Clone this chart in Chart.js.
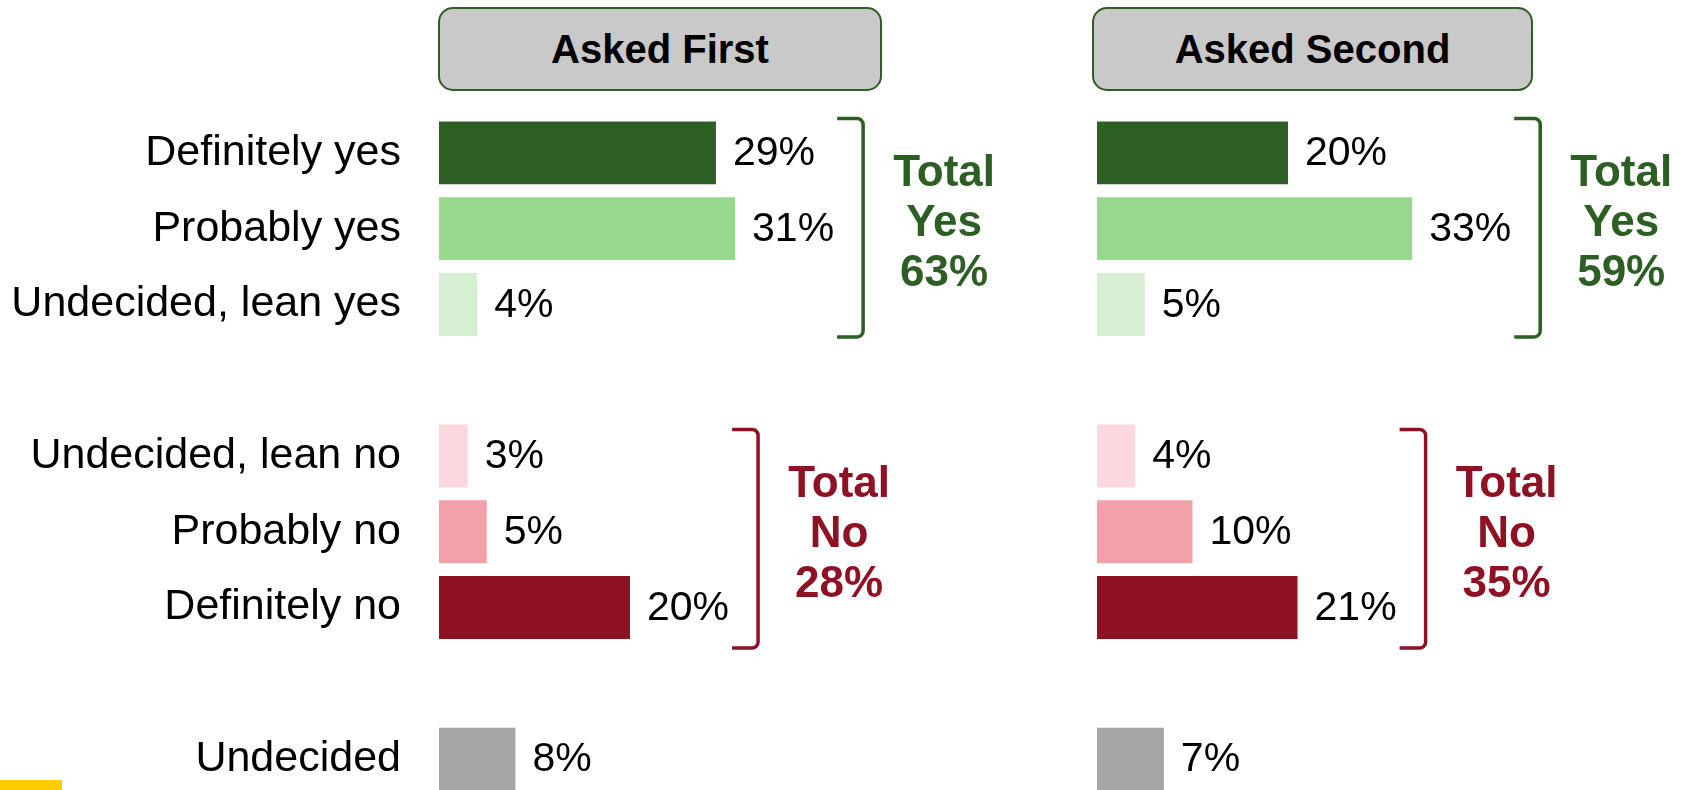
<!DOCTYPE html>
<html>
<head>
<meta charset="utf-8">
<title>Asked First vs Asked Second</title>
<script src="https://cdn.jsdelivr.net/npm/chart.js@4.4.1/dist/chart.umd.min.js"></script>
<style>
  body { margin: 0; width: 1686px; height: 790px; overflow: hidden; background: #fff; position: relative;
         font-family: "Liberation Sans", Arial, sans-serif; }
  canvas { position: absolute; top: 0; }
  #chartFirst { left: 0; }
  #chartSecond { left: 1060px; }
  .hdr { position: absolute; top: 7px; height: 84px; box-sizing: border-box; background: #c9c9c9;
         border: 2px solid #2d5e24; border-radius: 15px; display: flex; align-items: center;
         justify-content: center; font-weight: bold; font-size: 40px; color: #000; }
  #hdrFirst { left: 438px; width: 444px; }
  #hdrSecond { left: 1092px; width: 441px; }
  #stripe { position: absolute; left: 0; top: 780px; width: 62px; height: 10px; background: #ffcc00; }
</style>
</head>
<body>
<div class="hdr" id="hdrFirst">Asked First</div>
<div class="hdr" id="hdrSecond">Asked Second</div>
<canvas id="chartFirst" width="1060" height="800"></canvas>
<canvas id="chartSecond" width="626" height="800"></canvas>
<div id="stripe"></div>
<script>
// === Data ===
const categories = ['Definitely yes', 'Probably yes', 'Undecided, lean yes',
                    'Undecided, lean no', 'Probably no', 'Definitely no', 'Undecided'];
const askedFirst = [29, 31, 4, 3, 5, 20, 8];
const askedSecond = [20, 33, 5, 4, 10, 21, 7];
const barColors = ['#2d5e24', '#98d78e', '#d6efd2', '#fbd8dd', '#f4a0ab', '#8f1124', '#a6a6a6'];

const groupNames = ['Yes', 'No'];
const groupRows = [[0, 1, 2], [3, 4, 5]];
const totalsFirst = [63, 28];
const totalsSecond = [59, 35];
const groupColors = ['#2d5e24', '#8f1124'];
const bracketShift = [0, 8];

// empty rows after these categories
const gapAfter = [2, 5];

const FONT = '"Liberation Sans", Arial, sans-serif';
Chart.defaults.font.family = FONT;

function withGaps(arr, blank) {
  const out = [];
  arr.forEach((v, i) => { out.push(v); if (gapAfter.includes(i)) out.push(blank); });
  return out;
}
function rowOf(i) { return i + gapAfter.filter(g => g < i).length; }

// value labels, brackets and totals
const annotations = {
  id: 'annotations',
  afterDatasetsDraw(chart, args, opts) {
    const ctx = chart.ctx;
    const meta = chart.getDatasetMeta(0);
    const values = chart.data.datasets[0].data;
    const ends = [];
    ctx.save();
    ctx.font = '41px ' + FONT;
    ctx.textBaseline = 'middle';
    ctx.textAlign = 'left';
    ctx.fillStyle = '#000';
    meta.data.forEach((bar, i) => {
      if (values[i] == null) return;
      const txt = values[i] + '%';
      const x = bar.x + 17;
      ctx.fillText(txt, x, bar.y + 1);
      ends[i] = x + ctx.measureText(txt).width;
    });

    groupRows.forEach((rows, g) => {
      const idx = rows.map(rowOf);
      const first = meta.data[idx[0]];
      const last = meta.data[idx[idx.length - 1]];
      const top = first.y - first.height / 2 - 3 + bracketShift[g];
      const bottom = last.y + last.height / 2 + 1 + bracketShift[g];
      const arm = Math.max(...idx.map(i => ends[i])) + 3;
      const vx = arm + 26;

      ctx.strokeStyle = groupColors[g];
      ctx.lineWidth = 3.5;
      ctx.beginPath();
      ctx.moveTo(arm, top);
      ctx.arcTo(vx, top, vx, bottom, 6);
      ctx.arcTo(vx, bottom, arm, bottom, 6);
      ctx.lineTo(arm, bottom);
      ctx.stroke();

      const cx = vx + 81;
      const cy = (top + bottom) / 2 - 4;
      ctx.fillStyle = groupColors[g];
      ctx.font = 'bold 44px ' + FONT;
      ctx.textAlign = 'center';
      ['Total', groupNames[g], opts.totals[g] + '%'].forEach((line, k) => {
        ctx.fillText(line, cx, cy + (k - 1) * 50);
      });
      ctx.textAlign = 'left';
      ctx.font = '41px ' + FONT;
    });
    ctx.restore();
  }
};

function makeChart(id, values, totals, showLabels, padLeft, padRight) {
  const ctx = document.getElementById(id).getContext('2d');
  return new Chart(ctx, {
    type: 'bar',
    data: {
      labels: withGaps(categories, ''),
      datasets: [{
        data: withGaps(values, null),
        backgroundColor: withGaps(barColors, 'rgba(0,0,0,0)'),
        borderWidth: 0,
        categoryPercentage: 1,
        barPercentage: 0.83
      }]
    },
    options: {
      indexAxis: 'y',
      responsive: false,
      animation: false,
      devicePixelRatio: 1,
      layout: { padding: { left: padLeft, right: padRight, top: 115, bottom: 3 } },
      plugins: { legend: { display: false }, tooltip: { enabled: false }, annotations: { totals } },
      scales: {
        x: { display: false, min: 0, max: 60 },
        y: {
          display: showLabels,
          grid: { display: false, drawTicks: false },
          border: { display: false },
          ticks: { color: '#000', font: { size: 43 }, padding: 38, autoSkip: false },
          afterFit: scale => {
            if (!showLabels) return;
            scale.width = 439;
            scale.paddingTop = 0;
            scale.paddingBottom = 0;
          }
        }
      }
    },
    plugins: [annotations]
  });
}

makeChart('chartFirst', askedFirst, totalsFirst, true, 0, 48);
makeChart('chartSecond', askedSecond, totalsSecond, false, 37, 16);
</script>
</body>
</html>
